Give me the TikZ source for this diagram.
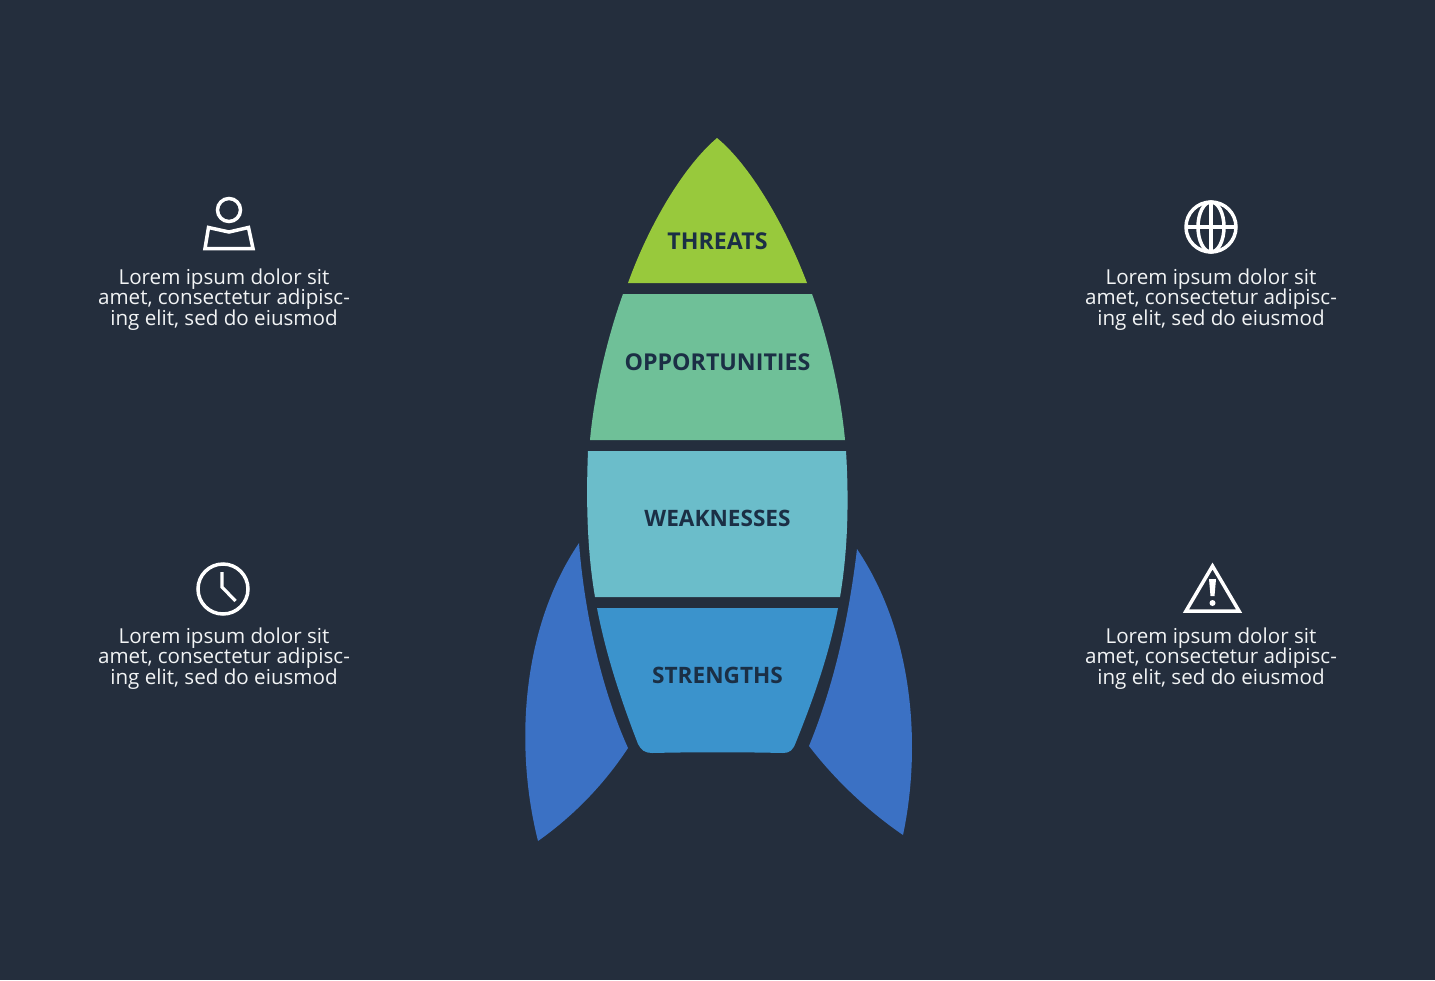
\documentclass[tikz,border=0pt]{standalone}
\usepackage{fontspec}
\setmainfont{Open Sans}
\definecolor{bg}{HTML}{242E3D}
\definecolor{cthreat}{HTML}{98C93C}
\definecolor{copp}{HTML}{6FC098}
\definecolor{cweak}{HTML}{6BBDCA}
\definecolor{cstr}{HTML}{3B93CC}
\definecolor{cfin}{HTML}{3B71C4}
\definecolor{labelc}{HTML}{1B2F45}
\definecolor{textc}{HTML}{F2F4F5}
\tikzset{
  label text/.style={text=labelc,font=\bfseries\fontsize{11.6}{14}\selectfont,inner sep=0pt,anchor=center},
  label small/.style={label text,font=\bfseries\fontsize{11.3}{14}\selectfont},
  body text/.style={text=textc,font=\fontsize{10.3}{10.25}\selectfont,align=center,inner sep=0pt,anchor=center},
  icon/.style={draw=white,line width=1.75pt,line join=miter}
}
\begin{document}
\begin{tikzpicture}[x=0.5pt,y=-0.5pt]
\useasboundingbox[fill=bg] (0,0) rectangle (1435,980);
% rocket body
\fill[cthreat] (628,283) .. controls (650,222) and (685,165) .. (717,138) .. controls (750,165) and (785,225) .. (807,283) -- cycle;
\fill[copp] (623,294) -- (812,294) .. controls (828,338) and (841,395) .. (845,440) -- (590,440) .. controls (594,395) and (607,338) .. (623,294) -- cycle;
\fill[cweak] (588,451) -- (846,451) .. controls (849,500) and (848,550) .. (840,597) -- (595,597) .. controls (587,550) and (586,500) .. (588,451) -- cycle;
\fill[cstr] (597,608) -- (838,608) .. controls (829,655) and (813,700) .. (796,742) .. controls (793,750) and (790,753) .. (783,753) .. controls (740,752) and (695,752) .. (652,753) .. controls (645,753) and (641,750) .. (638,744) .. controls (621,700) and (606,655) .. (597,608) -- cycle;
% fins
\fill[cfin] (579,543) .. controls (585,620) and (604,695) .. (628,748) .. controls (603,786) and (572,817) .. (538,841) .. controls (515,750) and (520,630) .. (579,543) -- cycle;
\fill[cfin] (857,549) .. controls (848,625) and (832,690) .. (809,746) .. controls (835,780) and (868,811) .. (903,835) .. controls (921,750) and (915,635) .. (857,549) -- cycle;
% labels
\node[label text] (threats) at (717.5,241) {THREATS};
\node[label text] (opportunities) at (717.5,362) {OPPORTUNITIES};
\node[label small] (weaknesses) at (717.5,518.5) {WEAKNESSES};
\node[label small] (strengths) at (717.5,675) {STRENGTHS};
% text blocks
\node[body text] (tl) at (224,299.5) {Lorem ipsum dolor sit\\[-1.1pt]amet, consectetur adipisc-\\[-1.1pt]ing elit, sed do eiusmod};
\node[body text] (bl) at (224,658.5) {Lorem ipsum dolor sit\\[-1.1pt]amet, consectetur adipisc-\\[-1.1pt]ing elit, sed do eiusmod};
\node[body text] (tr) at (1211,299.5) {Lorem ipsum dolor sit\\[-1.1pt]amet, consectetur adipisc-\\[-1.1pt]ing elit, sed do eiusmod};
\node[body text] (br) at (1211,658.5) {Lorem ipsum dolor sit\\[-1.1pt]amet, consectetur adipisc-\\[-1.1pt]ing elit, sed do eiusmod};
% person icon
\draw[icon] (229,210) circle[radius=11.5];
\draw[icon] (208.5,227.5) -- (229,232) -- (248.5,227.5) -- (253,248.5) -- (205,248.5) -- cycle;
% clock icon
\draw[icon] (223,589) circle[radius=25];
\draw[icon,line width=1.6pt] (222,572) -- (222,587) -- (235.5,601);
% globe icon
\draw[icon] (1211,227) circle[radius=25];
\draw[icon] (1211,227) ellipse[x radius=13,y radius=25];
\draw[icon] (1211,202) -- (1211,252);
\draw[icon] (1186,227) -- (1236,227);
% warning icon
\draw[icon] (1212.5,566) -- (1239,611) -- (1186,611) -- cycle;
\fill[white] (1209,579) -- (1216,579) -- (1214.5,596) -- (1210.5,596) -- cycle;
\fill[white] (1212.5,603) circle[radius=3];
\end{tikzpicture}
\end{document}
